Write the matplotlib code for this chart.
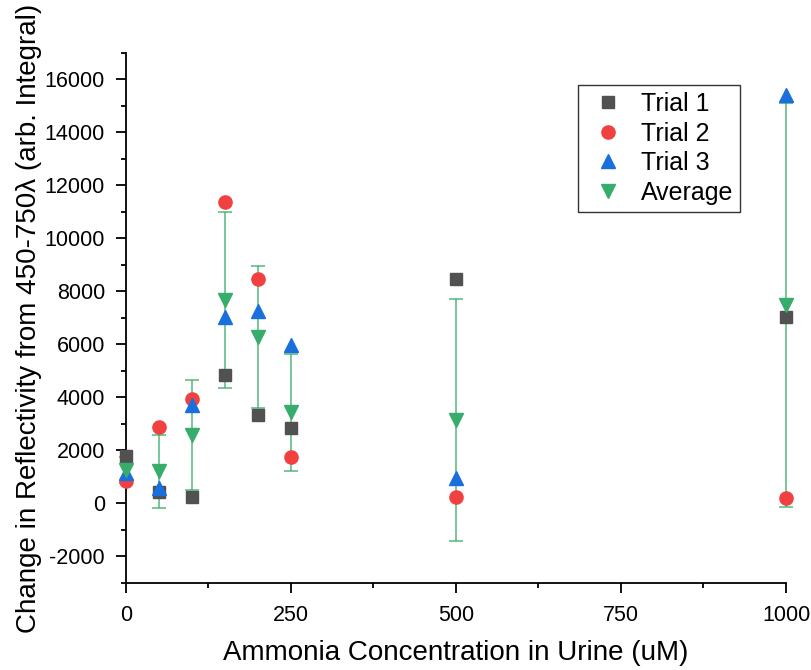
import numpy as np
import matplotlib
matplotlib.use("Agg")
import matplotlib.pyplot as plt

plt.rcParams['font.family'] = ['Liberation Sans', 'DejaVu Sans']
plt.rcParams['axes.unicode_minus'] = False

# Values
conc = [0, 50, 100, 150, 200, 250, 500, 1000]
trial1 = [1780, 420, 225, 4840, 3330, 2840, 8470, 7030]
trial2 = [830, 2870, 3930, 11380, 8470, 1740, 227, 190]
trial3 = [1135, 570, 3700, 7030, 7260, 5980, 945, 15430]
average = [1250, 1220, 2570, 7680, 6280, 3440, 3140, 7490]
avg_err = [485, 1375, 2080, 3330, 2690, 2200, 4570, 7630]

fig = plt.figure(figsize=(8.12, 6.70), dpi=100)
ax = fig.add_axes([0.155, 0.130, 0.813, 0.791])

ax.errorbar(conc, average, yerr=avg_err, fmt='none', ecolor='#37AD6B',
            elinewidth=1.2, capsize=5, capthick=1.2, alpha=0.8, clip_on=False, zorder=2)
ax.plot(conc, trial1, 's', color='#515151', ms=8.5, label='Trial 1', clip_on=False, zorder=3)
ax.plot(conc, trial2, 'o', color='#F14040', ms=9.5, label='Trial 2', clip_on=False, zorder=3)
ax.plot(conc, trial3, '^', color='#1A6FDF', ms=10.5, label='Trial 3', clip_on=False, zorder=3)
ax.plot(conc, average, 'v', color='#37AD6B', ms=10.5, label='Average', clip_on=False, zorder=4)

ax.set_xlim(0, 1000)
ax.set_ylim(-3000, 17000)
ax.set_xticks([0, 250, 500, 750, 1000])
ax.set_xticks(np.arange(125, 1000, 250), minor=True)
ax.set_yticks(np.arange(-2000, 16001, 2000))
ax.set_yticks(np.arange(-3000, 17001, 1000), minor=True)

for s in ['top', 'right']:
    ax.spines[s].set_visible(False)
for s in ['left', 'bottom']:
    ax.spines[s].set_linewidth(1.3)

ax.tick_params(which='major', direction='out', length=7, width=1.3, labelsize=15.5)
ax.tick_params(which='minor', direction='out', length=3.5, width=1.3)
ax.tick_params(axis='x', which='major', pad=9)
ax.tick_params(axis='y', which='major', pad=8)

ax.set_xlabel('Ammonia Concentration in Urine (uM)', fontsize=20, labelpad=10)
ax.set_ylabel('Change in Reflectivity from 450-750λ (arb. Integral)', fontsize=20, labelpad=2)

leg = ax.legend(loc='upper left', bbox_to_anchor=(0.685, 0.94), fontsize=18,
                frameon=True, fancybox=False, edgecolor='black', borderpad=0.3,
                handlelength=1.8, handletextpad=0.4, labelspacing=0.22, borderaxespad=0)
leg.get_frame().set_linewidth(1.0)

fig.savefig('out.png', dpi=100)
